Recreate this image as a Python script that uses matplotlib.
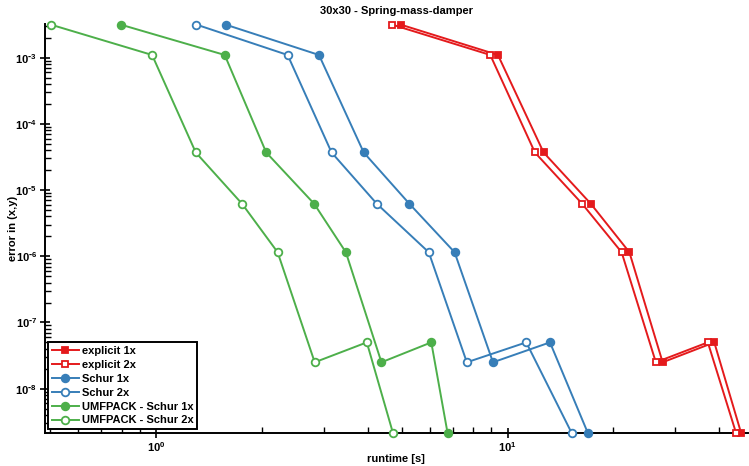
"""Runtime vs error for the 30x30 spring-mass-damper problem, log-log."""

import math

import matplotlib

matplotlib.use("Agg")

import matplotlib.pyplot as plt  # noqa: E402
from matplotlib.ticker import FixedLocator, FuncFormatter, NullFormatter  # noqa: E402

# error levels shared by every solver run
errors = [3.16e-3, 1.1e-3, 3.7e-5, 6.2e-6, 1.15e-6, 2.5e-8, 5.0e-8, 2.16e-9]

explicit_1x = [4.97, 9.39, 12.66, 17.25, 22.2, 27.6, 38.7, 46.1]
explicit_2x = [4.70, 8.93, 11.96, 16.3, 21.1, 26.4, 37.1, 44.6]
schur_1x = [1.58, 2.91, 3.90, 5.26, 7.07, 9.09, 13.2, 16.9]
schur_2x = [1.305, 2.37, 3.16, 4.25, 5.97, 7.66, 11.3, 15.2]
umf_1x = [0.795, 1.57, 2.06, 2.82, 3.47, 4.38, 6.07, 6.75]
umf_2x = [0.503, 0.976, 1.299, 1.759, 2.22, 2.83, 3.98, 4.72]

x_decades = [1, 10]
y_decades = [1e-8, 1e-7, 1e-6, 1e-5, 1e-4, 1e-3]

RED, BLUE, GREEN = "#E41A1C", "#377EB8", "#4DAF4A"

plt.rcParams["font.family"] = ["Liberation Sans", "DejaVu Sans"]
plt.rcParams["font.weight"] = "bold"
plt.rcParams["font.size"] = 8


def _decade(value, _pos):
    exp = int(round(math.log10(value)))
    sign = r"\text{-}" if exp < 0 else ""
    return r"$\mathdefault{10^{%s%d}}$" % (sign, abs(exp))


fig = plt.figure(figsize=(7.49, 4.66), dpi=100)
ax = fig.add_axes([0.060, 0.0715, 0.938, 0.877])

series = [
    ("explicit 1x", explicit_1x, RED, "s", True),
    ("explicit 2x", explicit_2x, RED, "s", False),
    ("Schur 1x", schur_1x, BLUE, "o", True),
    ("Schur 2x", schur_2x, BLUE, "o", False),
    ("UMFPACK - Schur 1x", umf_1x, GREEN, "o", True),
    ("UMFPACK - Schur 2x", umf_2x, GREEN, "o", False),
]
for label, xs, color, marker, filled in series:
    ax.plot(
        xs,
        errors,
        color=color,
        marker=marker,
        markersize=4.8 if marker == "s" else 5.5,
        markerfacecolor=color if filled else "white",
        markeredgecolor=color,
        markeredgewidth=1.3,
        linewidth=1.4,
        label=label,
        clip_on=False,
        zorder=3,
    )

ax.set_xscale("log")
ax.set_yscale("log")
ax.set_xlim(0.484, 48.1)
ax.set_ylim(2.16e-9, 3.23e-3)
ax.xaxis.set_major_locator(FixedLocator(x_decades))
ax.yaxis.set_major_locator(FixedLocator(y_decades))
for axis in (ax.xaxis, ax.yaxis):
    axis.set_major_formatter(FuncFormatter(_decade))
    axis.set_minor_formatter(NullFormatter())

for side in ("top", "right"):
    ax.spines[side].set_visible(False)
for side in ("left", "bottom"):
    ax.spines[side].set_linewidth(1.4)
ax.tick_params(which="major", direction="inout", length=7, width=1.2, labelsize=8, pad=2)
ax.tick_params(which="minor", direction="in", length=4, width=1.0)

ax.set_xlabel("runtime [s]", fontweight="bold")
ax.set_ylabel("error in (x,y)", fontweight="bold")
ax.xaxis.set_label_coords(0.5, -0.052)
ax.yaxis.set_label_coords(-0.038, 0.5)
ax.set_title("30x30 - Spring-mass-damper", fontweight="bold", fontsize=8, pad=7)

leg = ax.legend(
    loc="lower left",
    fancybox=False,
    edgecolor="black",
    framealpha=1.0,
    borderaxespad=0.3,
    handlelength=2.4,
    handletextpad=0.25,
    labelspacing=0.35,
    borderpad=0.35,
    prop={"weight": "bold", "size": 8},
)
leg.get_frame().set_linewidth(1.4)

fig.savefig("out.png", dpi=100)
